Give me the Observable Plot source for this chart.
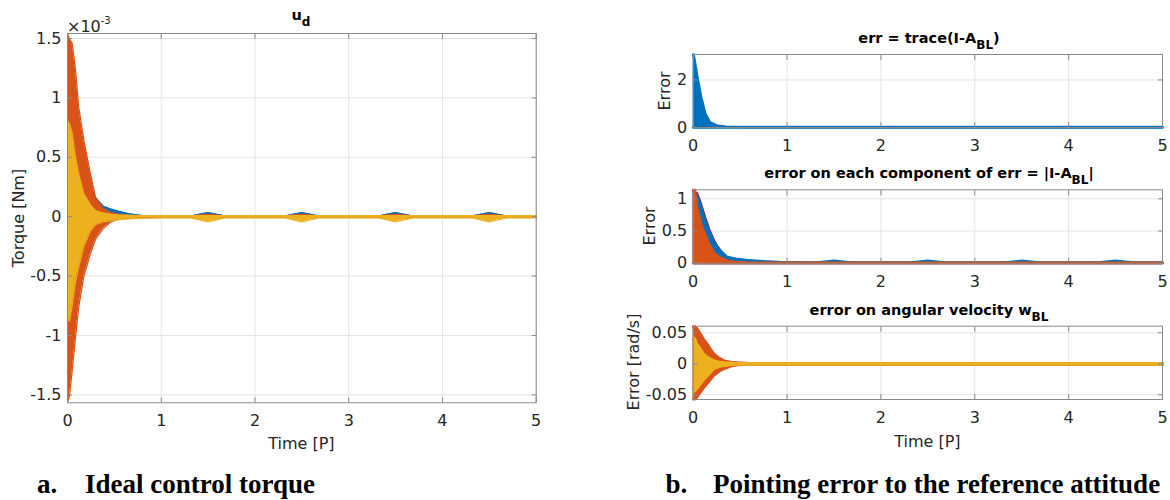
<!DOCTYPE html>
<html><head><meta charset="utf-8">
<script src="https://cdn.jsdelivr.net/npm/d3@7"></script>
<script src="https://cdn.jsdelivr.net/npm/@observablehq/plot@0.6"></script>
<style>
body{margin:0;background:#fff;}
#wrap{position:relative;width:1170px;height:500px;overflow:hidden;font-family:"DejaVu Sans",sans-serif;color:#262626;}
.t{position:absolute;white-space:nowrap;line-height:1;}
.ttl{font-weight:bold;font-size:14.5px;color:#000;transform:translateX(-50%);}
.sub{position:relative;top:6px;font-size:12px;}
.lab{font-size:16px;}
.rot{transform:translate(-50%,-50%) rotate(-90deg);}
.ctr{transform:translateX(-50%);}
.cap{font-family:"Liberation Serif","Times New Roman",serif;font-weight:bold;font-size:27px;color:#000;}
</style></head><body><div id="wrap"></div>
<script>
// ---- Data (envelopes of the oscillating signals) ----
const xTicks = [0, 1, 2, 3, 4, 5];

// Left: ideal control torque u_d (values in units of 1e-3 Nm)
const ud_t = [0, 0.02, 0.05, 0.085, 0.12, 0.175, 0.245, 0.30, 0.38, 0.46, 0.55, 0.65, 0.8, 1.0, 1.32, 1.5, 1.68, 2.32, 2.5, 2.68, 3.32, 3.5, 3.68, 4.32, 4.5, 4.68, 5.0];
const ud1_hi = [1.05, 1.0, 0.9, 0.75, 0.6, 0.42, 0.26, 0.16, 0.09, 0.065, 0.045, 0.025, 0.01, 0.006, 0.006, 0.035, 0.006, 0.006, 0.035, 0.006, 0.006, 0.035, 0.006, 0.006, 0.035, 0.006, 0.006];
const ud1_lo = [-0.95, -0.9, -0.85, -0.7, -0.55, -0.4, -0.24, -0.14, -0.07, -0.04, -0.02, -0.012, -0.008, -0.006, -0.006, -0.008, -0.006, -0.006, -0.008, -0.006, -0.006, -0.008, -0.006, -0.006, -0.008, -0.006, -0.006];
const ud2_hi = [1.54, 1.5, 1.46, 1.24, 0.92, 0.64, 0.36, 0.16, 0.07, 0.035, 0.02, 0.012, 0.008, 0.006, 0.006, 0.02, 0.006, 0.006, 0.02, 0.006, 0.006, 0.02, 0.006, 0.006, 0.02, 0.006, 0.006];
const ud2_lo = [-1.56, -1.52, -1.3, -1.02, -0.76, -0.5, -0.31, -0.19, -0.1, -0.045, -0.02, -0.012, -0.008, -0.006, -0.006, -0.02, -0.006, -0.006, -0.02, -0.006, -0.006, -0.02, -0.006, -0.006, -0.02, -0.006, -0.006];
const ud3_hi = [0.81, 0.78, 0.7, 0.5, 0.36, 0.19, 0.1, 0.05, 0.03, 0.02, 0.014, 0.012, 0.01, 0.01, 0.01, 0.01, 0.01, 0.01, 0.01, 0.01, 0.01, 0.01, 0.01, 0.01, 0.01, 0.01, 0.01];
const ud3_lo = [-0.85, -0.88, -0.75, -0.55, -0.42, -0.25, -0.12, -0.065, -0.045, -0.035, -0.025, -0.018, -0.012, -0.01, -0.01, -0.045, -0.01, -0.01, -0.045, -0.01, -0.01, -0.045, -0.01, -0.01, -0.045, -0.01, -0.01];
const udTicks = [-1.5, -1, -0.5, 0, 0.5, 1, 1.5];

// Right top: err = trace(I - A_BL)
const err_t = [0, 0.01, 0.03, 0.05, 0.085, 0.13, 0.18, 0.26, 0.35, 0.5, 1.0, 5.0];
const err_hi = [3.07, 2.95, 2.47, 2.0, 1.27, 0.57, 0.21, 0.07, 0.03, 0.02, 0.02, 0.02];
const err_lo = [0, 0, 0, 0, 0, 0, 0, 0, 0, 0, 0, 0];
const errTicks = [0, 2];

// Right middle: error on each component |I - A_BL| (visible components)
const cmp_t = [0, 0.02, 0.04, 0.07, 0.096, 0.13, 0.17, 0.22, 0.255, 0.3, 0.36, 0.45, 0.58, 0.76, 1.0, 1.32, 1.5, 1.68, 2.32, 2.5, 2.68, 3.32, 3.5, 3.68, 4.32, 4.5, 4.68, 5.0];
const cmp7_hi = [1.12, 1.1, 1.09, 0.98, 0.86, 0.7, 0.53, 0.36, 0.27, 0.18, 0.1, 0.065, 0.04, 0.025, 0.012, 0.008, 0.02, 0.008, 0.008, 0.02, 0.008, 0.008, 0.02, 0.008, 0.008, 0.02, 0.008, 0.008];
const cmp8_hi = [1.1, 1.09, 1.07, 0.94, 0.82, 0.66, 0.5, 0.34, 0.26, 0.18, 0.1, 0.07, 0.05, 0.03, 0.015, 0.012, 0.04, 0.012, 0.012, 0.04, 0.012, 0.012, 0.04, 0.012, 0.012, 0.04, 0.012, 0.012];
const cmp9_hi = [1.14, 1.14, 0.88, 0.7, 0.56, 0.44, 0.3, 0.17, 0.12, 0.08, 0.04, 0.02, 0.012, 0.01, 0.01, 0.01, 0.01, 0.01, 0.01, 0.01, 0.01, 0.01, 0.01, 0.01, 0.01, 0.01, 0.01, 0.01];
const cmp_lo = [0, 0, 0, 0, 0, 0, 0, 0, 0, 0, 0, 0, 0, 0, 0, 0, 0, 0, 0, 0, 0, 0, 0, 0, 0, 0, 0, 0];
const cmpTicks = [0, 0.5, 1];

// Right bottom: error on angular velocity w_BL (rad/s)
const w_t = [0, 0.02, 0.04, 0.078, 0.11, 0.15, 0.22, 0.28, 0.33, 0.4, 0.47, 0.6, 1.0, 5.0];
const w1_hi = [0.04, 0.038, 0.03, 0.024, 0.017, 0.012, 0.006, 0.005, 0.004, 0.002, 0.001, 0.001, 0.001, 0.001];
const w1_lo = [-0.04, -0.038, -0.032, -0.026, -0.02, -0.014, -0.007, -0.005, -0.004, -0.002, -0.001, -0.001, -0.001, -0.001];
const w2_hi = [0.06, 0.06, 0.057, 0.048, 0.04, 0.032, 0.016, 0.009, 0.005, 0.003, 0.002, 0.001, 0.001, 0.001];
const w2_lo = [-0.057, -0.057, -0.054, -0.046, -0.039, -0.032, -0.019, -0.012, -0.008, -0.004, -0.002, -0.001, -0.001, -0.001];
const w3_hi = [0.043, 0.04, 0.032, 0.024, 0.016, 0.011, 0.005, 0.003, 0.002, 0.0015, 0.001, 0.001, 0.001, 0.001];
const w3_lo = [-0.046, -0.044, -0.04, -0.033, -0.026, -0.02, -0.008, -0.005, -0.003, -0.002, -0.0012, -0.001, -0.001, -0.001];
const wTicks = [-0.05, 0, 0.05];

// ---- Styling ----
const C = {blue: "#0072BD", orange: "#D95319", yellow: "#EDB120", darkred: "#A2142F"};
const AX = "#8a8a8a", GRID = "#e4e4e4", TXT = "#262626";
const wrap = document.getElementById("wrap");

const rows = (t, lo, hi) => t.map((x, i) => ({t: x, lo: lo[i], hi: hi[i]}));

function seriesMarks(data, color, sw) {
  return [
    Plot.areaY(data, {x: "t", y1: "lo", y2: "hi", fill: color}),
    Plot.line(data, {x: "t", y: "hi", stroke: color, strokeWidth: sw}),
    Plot.line(data, {x: "t", y: "lo", stroke: color, strokeWidth: sw})
  ];
}

function panel({left, top, width, height, mL, mT, mR, mB, yDomain, yTicks, series, sw}) {
  const fmt = d => String(d);
  const p = Plot.plot({
    width, height, marginLeft: mL, marginTop: mT, marginRight: mR, marginBottom: mB,
    x: {domain: [0, 5]},
    y: {domain: yDomain},
    style: {background: "transparent", fontFamily: "DejaVu Sans, sans-serif", fontSize: "16px", color: TXT, overflow: "visible"},
    marks: [
      Plot.gridX(xTicks, {stroke: GRID, strokeOpacity: 1}),
      Plot.gridY(yTicks, {stroke: GRID, strokeOpacity: 1}),
      ...series.flatMap(s => seriesMarks(s.data, s.color, sw)),
      Plot.frame({stroke: AX}),
      Plot.axisX(xTicks, {anchor: "bottom", tickSize: -5, tickPadding: 17, tickFormat: fmt, stroke: AX, fill: TXT, label: null}),
      Plot.axisX(xTicks, {anchor: "top", tickSize: -5, tickFormat: () => "", stroke: AX, label: null}),
      Plot.axisY(yTicks, {anchor: "left", tickSize: -5, tickPadding: 11, tickFormat: fmt, stroke: AX, fill: TXT, label: null}),
      Plot.axisY(yTicks, {anchor: "right", tickSize: -5, tickFormat: () => "", stroke: AX, label: null})
    ]
  });
  p.style.position = "absolute";
  p.style.left = left + "px";
  p.style.top = top + "px";
  wrap.appendChild(p);
}

// Left panel
panel({left: 0, top: 0, width: 560, height: 470, mL: 67, mT: 33, mR: 24.3, mB: 67.7,
  yDomain: [-1.567, 1.542], yTicks: udTicks, sw: 1.2,
  series: [
    {data: rows(ud_t, ud1_lo, ud1_hi), color: C.blue},
    {data: rows(ud_t, ud2_lo, ud2_hi), color: C.orange},
    {data: rows(ud_t, ud3_lo, ud3_hi), color: C.yellow}
  ]});

// Right top
panel({left: 640, top: 40, width: 530, height: 115, mL: 52.7, mT: 14, mR: 8, mB: 28,
  yDomain: [0, 3.07], yTicks: errTicks, sw: 2.5,
  series: [{data: rows(err_t, err_lo, err_hi), color: C.blue}]});

// Right middle
panel({left: 640, top: 160, width: 530, height: 125, mL: 52.7, mT: 29.3, mR: 8, mB: 22.3,
  yDomain: [0, 1.14], yTicks: cmpTicks, sw: 2.2,
  series: [
    {data: rows(cmp_t, cmp_lo, cmp7_hi), color: C.darkred},
    {data: rows(cmp_t, cmp_lo, cmp8_hi), color: C.blue},
    {data: rows(cmp_t, cmp_lo, cmp9_hi), color: C.orange}
  ]});

// Right bottom
panel({left: 640, top: 300, width: 530, height: 130, mL: 52.7, mT: 25.7, mR: 8, mB: 31,
  yDomain: [-0.0576, 0.0606], yTicks: wTicks, sw: 2.5,
  series: [
    {data: rows(w_t, w1_lo, w1_hi), color: C.blue},
    {data: rows(w_t, w2_lo, w2_hi), color: C.orange},
    {data: rows(w_t, w3_lo, w3_hi), color: C.yellow}
  ]});

// ---- Text overlays ----
function txt(html, cls, x, y) {
  const d = document.createElement("div");
  d.className = "t " + cls;
  d.innerHTML = html;
  d.style.left = x + "px";
  d.style.top = y + "px";
  wrap.appendChild(d);
}
txt('u<span class="sub">d</span>', "ttl", 301, 7.7);
txt('×10<span style="position:relative;top:-8px;font-size:10px">-3</span>', "", 67, 18.7);
txt('err = trace(I-A<span class="sub">BL</span>)', "ttl", 929, 30.5);
txt('error on each component of err = |I-A<span class="sub">BL</span>|', "ttl", 929, 166);
txt('error on angular velocity w<span class="sub">BL</span>', "ttl", 929, 302.7);

txt('Time [P]', "lab ctr", 301.4, 435.5);
txt('Time [P]', "lab ctr", 927.4, 433.5);
txt('Torque [Nm]', "lab rot", 18.8, 217.7);
txt('Error', "lab rot", 665, 90.5);
txt('Error', "lab rot", 650, 226);
txt('Error [rad/s]', "lab rot", 634, 362.4);

txt('a.', "cap", 37, 470.5);
txt('Ideal control torque', "cap", 85, 470.5);
txt('b.', "cap", 665.5, 470.5);
txt('Pointing error to the reference attitude', "cap", 713, 470.5);
</script>
</body></html>
